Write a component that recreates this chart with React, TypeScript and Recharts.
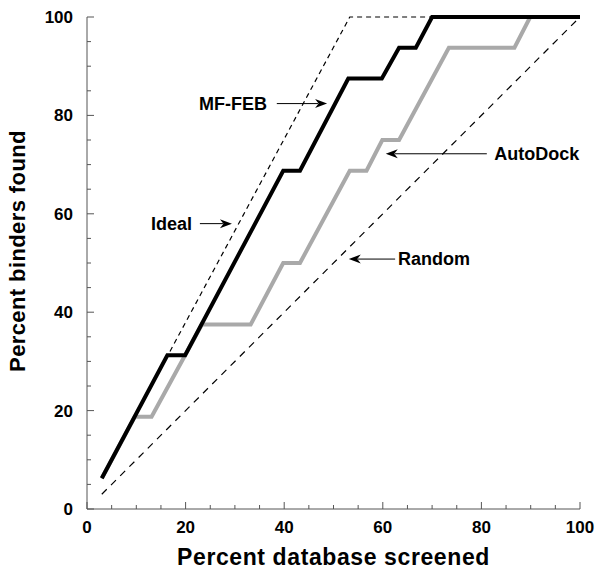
import React from 'react';
import { LineChart, Line, XAxis, YAxis, ReferenceLine } from 'recharts';

// values (percent database screened vs percent binders found)
const mfFebX = [3, 16.3, 19.9, 39.8, 43.2, 53.0, 59.8, 63.3, 66.7, 70.0, 100];
const mfFebY = [6.25, 31.25, 31.25, 68.75, 68.75, 87.5, 87.5, 93.75, 93.75, 100, 100];

const autoDockX = [3, 9.7, 13.1, 19.9, 23.3, 33.2, 39.8, 43.2, 53.3, 56.7, 59.9, 63.3, 73.4, 86.7, 89.9, 100];
const autoDockY = [6.25, 18.75, 18.75, 31.25, 37.5, 37.5, 50, 50, 68.75, 68.75, 75, 75, 93.75, 93.75, 100, 100];

const idealX = [3, 53.3, 100];
const idealY = [6.25, 100, 100];

const randomX = [3, 100];
const randomY = [3, 100];

const tickValues = [0, 5, 10, 15, 20, 25, 30, 35, 40, 45, 50, 55, 60, 65, 70, 75, 80, 85, 90, 95, 100];

// annotation labels: text, y level, text anchor x, arrow tail x, arrow head x
const notes = [
  { text: 'MF-FEB', y: 82.4, textX: 36.5, from: 38.5, to: 48.7 },
  { text: 'Ideal', y: 58.0, textX: 21.3, from: 22.9, to: 29.4 },
  { text: 'AutoDock', y: 72.2, textX: 82.6, from: 81.1, to: 60.6 },
  { text: 'Random', y: 50.8, textX: 63.1, from: 62.5, to: 53.1 },
];

const toPoints = (xs: number[], ys: number[]) => xs.map((x, i) => ({ x, y: ys[i] }));

const FONT = '"Liberation Sans", Arial, Helvetica, sans-serif';
const AXIS = '#555';

function XTick(props: any) {
  const { x, y, payload } = props;
  const major = payload.value % 20 === 0;
  return (
    <g>
      <line x1={x} y1={y} x2={x} y2={y - (major ? 7 : 4)} stroke={AXIS} strokeWidth={1} />
      {major && (
        <text x={x} y={y + 24} textAnchor="middle" fontFamily={FONT} fontWeight="bold" fontSize={17} fill="#000">
          {payload.value}
        </text>
      )}
    </g>
  );
}

function YTick(props: any) {
  const { x, y, payload } = props;
  const major = payload.value % 20 === 0;
  return (
    <g>
      <line x1={x} y1={y} x2={x + (major ? 7 : 4)} y2={y} stroke={AXIS} strokeWidth={1} />
      {major && (
        <text x={x - 14} y={y + 6} textAnchor="end" fontFamily={FONT} fontWeight="bold" fontSize={17} fill="#000">
          {payload.value}
        </text>
      )}
    </g>
  );
}

function arrowShape(text: string, textRight: boolean) {
  return (p: any) => {
    const { x1, y1, x2, y2 } = p;
    const dir = x2 > x1 ? 1 : -1;
    const head = `M${x2},${y2} L${x2 - dir * 12},${y2 - 4.5} L${x2 - dir * 8.5},${y2} L${x2 - dir * 12},${y2 + 4.5} Z`;
    return (
      <g>
        <line x1={x1} y1={y1} x2={x2 - dir * 9} y2={y2} stroke="#000" strokeWidth={1} />
        <path d={head} fill="#000" />
      </g>
    );
  };
}

function NoteText(props: any) {
  const { viewBox, value, anchor } = props;
  return (
    <text x={viewBox.x} y={viewBox.y + 6} textAnchor={anchor} fontFamily={FONT} fontWeight="bold" fontSize={18} fill="#000">
      {value}
    </text>
  );
}

export default function App() {
  return (
    <div style={{ position: 'absolute', left: 0, top: 0, background: '#fff' }}>
      <LineChart width={604} height={574} margin={{ top: 17, right: 24, bottom: 0, left: 0 }}>
        <XAxis
          dataKey="x"
          type="number"
          domain={[0, 100]}
          ticks={tickValues}
          interval={0}
          height={65}
          tickSize={0}
          tickMargin={0}
          tickLine={false}
          axisLine={{ stroke: AXIS, strokeWidth: 1 }}
          tick={<XTick />}
          label={{
            content: (p: any) => (
              <text
                x={p.viewBox.x + p.viewBox.width / 2}
                y={p.viewBox.y + 56}
                textAnchor="middle"
                fontFamily={FONT}
                fontWeight="bold"
                fontSize={23}
                letterSpacing={0.6}
                fill="#000"
              >
                Percent database screened
              </text>
            ),
          }}
        />
        <YAxis
          dataKey="y"
          type="number"
          domain={[0, 100]}
          ticks={tickValues}
          interval={0}
          width={87}
          tickSize={0}
          tickMargin={0}
          tickLine={false}
          axisLine={{ stroke: AXIS, strokeWidth: 1 }}
          tick={<YTick />}
          label={{
            content: (p: any) => (
              <text
                x={25}
                y={251}
                transform="rotate(-90 25 251)"
                textAnchor="middle"
                fontFamily={FONT}
                fontWeight="bold"
                fontSize={22}
                letterSpacing={0.4}
                fill="#000"
              >
                Percent binders found
              </text>
            ),
          }}
        />
        <Line
          data={toPoints(randomX, randomY)}
          dataKey="y"
          stroke="#000"
          strokeWidth={1.2}
          strokeDasharray="7 6"
          dot={false}
          isAnimationActive={false}
        />
        <Line
          data={toPoints(idealX, idealY)}
          dataKey="y"
          stroke="#000"
          strokeWidth={1.2}
          strokeDasharray="5 4"
          dot={false}
          isAnimationActive={false}
        />
        <Line
          data={toPoints(autoDockX, autoDockY)}
          dataKey="y"
          stroke="#a9a9a9"
          strokeWidth={4}
          strokeLinejoin="miter"
          dot={false}
          isAnimationActive={false}
        />
        <Line
          data={toPoints(mfFebX, mfFebY)}
          dataKey="y"
          stroke="#000"
          strokeWidth={4}
          strokeLinejoin="miter"
          dot={false}
          isAnimationActive={false}
        />
        {notes.map((n) => (
          <ReferenceLine
            key={n.text}
            segment={[{ x: n.from, y: n.y }, { x: n.to, y: n.y }]}
            shape={arrowShape(n.text, n.to < n.from)}
            ifOverflow="visible"
          />
        ))}
        {notes.map((n) => (
          <ReferenceLine
            key={n.text + '-t'}
            segment={[{ x: n.textX, y: n.y }, { x: n.textX, y: n.y }]}
            stroke="none"
            ifOverflow="visible"
            label={<NoteText value={n.text} anchor={n.to < n.from ? 'start' : 'end'} />}
          />
        ))}
      </LineChart>
    </div>
  );
}
